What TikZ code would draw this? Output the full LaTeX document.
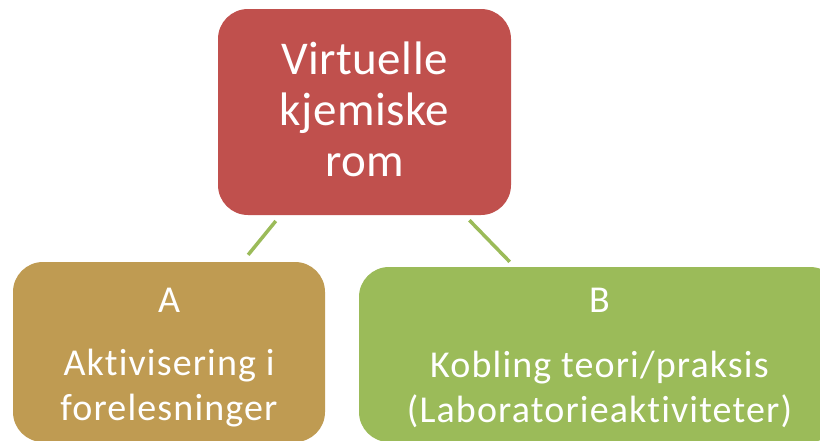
\documentclass[tikz,border=0pt]{standalone}
\usepackage{fontspec}
\setmainfont{Carlito}[Ligatures=NoCommon]
\newfontfamily\roomfont{Carlito}[Ligatures=NoCommon, LetterSpace=1]
\newfontfamily\branchfont{Carlito}[Ligatures=NoCommon, LetterSpace=3]
\usepackage{tikz}
\definecolor{roomred}{RGB}{192, 80, 77}
\definecolor{lecturetan}{RGB}{191, 155, 82}
\definecolor{labgreen}{RGB}{155, 187, 89}
\tikzset{
  themebox/.style={rectangle, rounded corners=30pt, text=white,
                   align=center, inner sep=0pt},
  branch/.style={draw=labgreen, line width=3.5pt},
}
\newcommand{\bigtext}{\roomfont\fontsize{47}{51}\selectfont}
\newcommand{\smalltext}{\branchfont\fontsize{38}{45}\selectfont}

\begin{document}
\begin{tikzpicture}[x=1pt, y=-1pt]
  % Canvas
  \useasboundingbox (0,0) rectangle (820,440);
  \clip (0,0) rectangle (820,440);

  % Top
  \node[themebox, fill=roomred, minimum width=293pt, minimum height=206pt,
        font=\bigtext] (rom) at (364.5,112)
    {Virtuelle\\kjemiske\\rom\rule[-6pt]{0pt}{0pt}};

  % Branches
  \node[themebox, fill=lecturetan, minimum width=312pt, minimum height=180pt,
        font=\smalltext] (akt) at (169,352)
    {\rule{0pt}{36pt}A\\[18pt]Aktivisering i\\forelesninger};

  \node[themebox, fill=labgreen, minimum width=481pt, minimum height=175pt,
        font=\smalltext] (lab) at (599.5,354.5)
    {\rule{0pt}{32pt}B\\[20pt]Kobling teori/praksis\\(Laboratorieaktiviteter)};

  \draw[branch, shorten <=7.5pt, shorten >=9pt] (rom) -- (akt);
  \draw[branch, shorten <=7pt, shorten >=7pt] (rom) -- (lab);
\end{tikzpicture}
\end{document}
